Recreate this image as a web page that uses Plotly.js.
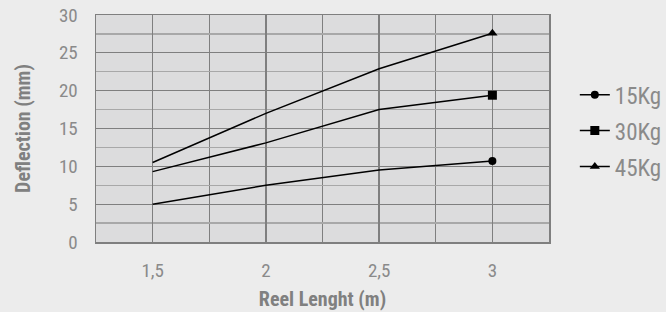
<!DOCTYPE html>
<html><head><meta charset="utf-8">
<script src="https://cdn.plot.ly/plotly-3.0.1.min.js"></script>
<style>html,body{margin:0;padding:0;background:#ececec;}</style>
</head><body>
<div id="chart" style="width:666px;height:312px;"></div>
<script>
var reelLength = [1.5, 2, 2.5, 3];
var seriesNames = ['15Kg', '30Kg', '45Kg'];
var defl15 = [5.0, 7.5, 9.5, 10.7];
var defl30 = [9.3, 13.1, 17.5, 19.4];
var defl45 = [10.5, 17.0, 22.9, 27.6];
var symbols = ['circle', 'square', 'triangle-up'];
var sizes = [8, 9, 9];

var FONT = '"Liberation Sans Narrow", "Roboto Condensed", Roboto, sans-serif';
var all = [defl15, defl30, defl45];
var traces = [];
all.forEach(function (vals, i) {
  traces.push({
    x: reelLength, y: vals, type: 'scatter', mode: 'lines',
    line: {color: '#000', width: 1.5}, showlegend: false, legendgroup: 'g' + i, hoverinfo: 'skip'
  });
  traces.push({
    x: reelLength.slice(-1), y: vals.slice(-1), type: 'scatter', mode: 'lines+markers',
    name: seriesNames[i], legendgroup: 'g' + i,
    line: {color: '#000', width: 1.5},
    marker: {color: '#000', symbol: symbols[i], size: sizes[i]}
  });
});

var layout = {
  width: 666, height: 312,
  paper_bgcolor: '#ececec', plot_bgcolor: '#dcdcdd',
  margin: {l: 96, r: 117, t: 15, b: 70, autoexpand: false},
  separators: ',.',
  font: {family: FONT, color: '#8a8a8a', size: 18},
  showlegend: true,
  legend: {x: 1.057, xanchor: 'left', y: 0.49, yanchor: 'middle', bgcolor: 'rgba(0,0,0,0)',
    font: {family: FONT, size: 23, color: '#8a8a8a'}, tracegroupgap: 3, itemwidth: 30},
  xaxis: {
    range: [1.25, 3.25], tickvals: reelLength, ticks: '', ticklabelstandoff: 11,
    showgrid: true, gridcolor: '#7f7f7f', gridwidth: 1.3,
    minor: {dtick: 0.25, tick0: 1.25, showgrid: true, gridcolor: '#7f7f7f', gridwidth: 1.3},
    showline: true, linecolor: '#7f7f7f', linewidth: 1.5, mirror: true, zeroline: false,
    title: {text: 'Reel Lenght (m)', font: {family: FONT, size: 20, color: '#808080', weight: 'bold'}, standoff: 10},
    tickfont: {family: FONT, size: 19, color: '#8a8a8a'}
  },
  yaxis: {
    range: [0, 30], dtick: 5, ticks: '', ticklabelstandoff: 13,
    showgrid: true, gridcolor: '#7f7f7f', gridwidth: 1.3,
    minor: {dtick: 2.5, showgrid: true, gridcolor: '#a8a8a8', gridwidth: 1.3},
    showline: true, linecolor: '#7f7f7f', linewidth: 1.5, mirror: true, zeroline: false,
    title: {text: 'Deflection (mm)', font: {family: FONT, size: 20, color: '#808080', weight: 'bold'}, standoff: 23},
    tickfont: {family: FONT, size: 19, color: '#8a8a8a'}
  }
};
Plotly.newPlot('chart', traces, layout, {displayModeBar: false, staticPlot: true});
</script>
</body></html>
